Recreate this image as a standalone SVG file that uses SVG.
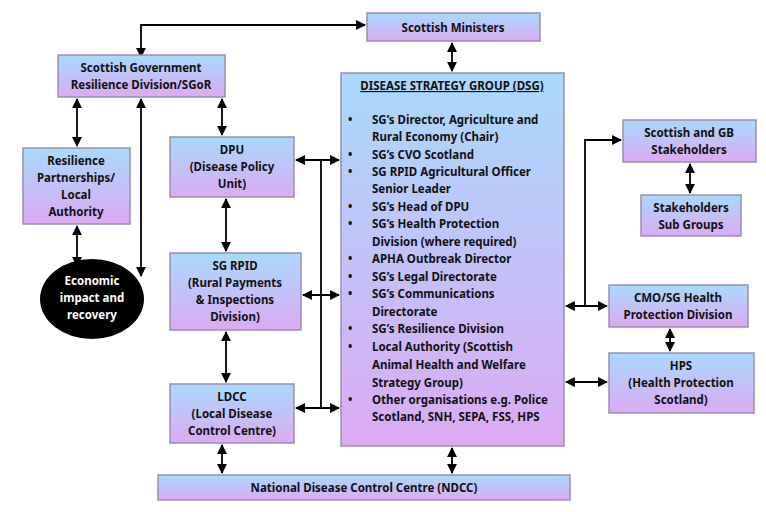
<svg xmlns="http://www.w3.org/2000/svg" width="766" height="512" viewBox="0 0 766 512">
<defs>
<linearGradient id="g" x1="0" y1="0" x2="0" y2="1"><stop offset="0" stop-color="#a9d9fb"/><stop offset="1" stop-color="#dcaaf3"/></linearGradient>
<marker id="a" viewBox="0 0 10 10" refX="9" refY="5" markerWidth="5.5" markerHeight="5.5" orient="auto-start-reverse"><path d="M0,0L10,5L0,10z" fill="#000"/></marker>
</defs>
<style>
.b{fill:url(#g);stroke:#9a8fb0;stroke-width:1.5}
text{font-family:"Noto Sans","Liberation Sans",sans-serif;font-weight:bold;font-size:11.5px;fill:#111}
.c{text-anchor:middle}
.l{fill:none;stroke:#000;stroke-width:1.8}
</style>
<rect width="766" height="512" fill="#fff"/>
<g id="connectors" class="l">
<path d="M141,57V25H365" marker-start="url(#a)" marker-end="url(#a)"/>
<path d="M452,43V71" marker-start="url(#a)" marker-end="url(#a)"/>
<path d="M77,99V146" marker-start="url(#a)" marker-end="url(#a)"/>
<path d="M222,99V135" marker-start="url(#a)" marker-end="url(#a)"/>
<path d="M141,99V276" marker-start="url(#a)" marker-end="url(#a)"/>
<path d="M77,226V266" marker-start="url(#a)" marker-end="url(#a)"/>
<path d="M226,199V251" marker-start="url(#a)" marker-end="url(#a)"/>
<path d="M226,332V382" marker-start="url(#a)" marker-end="url(#a)"/>
<path d="M296,160H339" marker-start="url(#a)" marker-end="url(#a)"/>
<path d="M303,295H339" marker-start="url(#a)" marker-end="url(#a)"/>
<path d="M296,408H339" marker-start="url(#a)" marker-end="url(#a)"/>
<path d="M321,160V408"/>
<path d="M222,445V473" marker-start="url(#a)" marker-end="url(#a)"/>
<path d="M452,448V473" marker-start="url(#a)" marker-end="url(#a)"/>
<path d="M566,306H607" marker-start="url(#a)" marker-end="url(#a)"/>
<path d="M585,306V140H621" marker-end="url(#a)"/>
<path d="M566,382H607" marker-start="url(#a)" marker-end="url(#a)"/>
<path d="M690,164V193" marker-start="url(#a)" marker-end="url(#a)"/>
<path d="M670,329V351" marker-start="url(#a)" marker-end="url(#a)"/>
</g>
<g id="ministers"><rect class="b" x="367" y="13" width="173" height="28"/><text class="c" x="453" y="32" font-size="13">Scottish Ministers</text></g>
<g id="sgor"><rect class="b" x="58" y="55" width="167" height="42"/><text class="c" x="141" y="72">Scottish Government</text><text class="c" x="141" y="89">Resilience Division/SGoR</text></g>
<g id="resilience"><rect class="b" x="23" y="148" width="107" height="76"/><text class="c" x="76" y="165">Resilience</text><text class="c" x="76" y="182">Partnerships/</text><text class="c" x="76" y="199">Local</text><text class="c" x="76" y="216">Authority</text></g>
<g id="econ"><ellipse cx="92" cy="299" rx="52" ry="40" fill="#000"/><text class="c" x="92" y="285" style="fill:#fff">Economic</text><text class="c" x="92" y="302" style="fill:#fff">impact and</text><text class="c" x="92" y="319" style="fill:#fff">recovery</text></g>
<g id="dpu"><rect class="b" x="170" y="137" width="124" height="60"/><text class="c" x="232" y="154">DPU</text><text class="c" x="232" y="171">(Disease Policy</text><text class="c" x="232" y="188">Unit)</text></g>
<g id="rpid"><rect class="b" x="170" y="253" width="131" height="77"/><text class="c" x="235" y="270">SG RPID</text><text class="c" x="235" y="287">(Rural Payments</text><text class="c" x="235" y="304">&amp; Inspections</text><text class="c" x="235" y="321">Division)</text></g>
<g id="ldcc"><rect class="b" x="170" y="384" width="124" height="59"/><text class="c" x="232" y="401">LDCC</text><text class="c" x="232" y="418">(Local Disease</text><text class="c" x="232" y="435">Control Centre)</text></g>
<g id="dsg"><rect class="b" x="341" y="73" width="223" height="373"/>
<text class="c" x="452" y="90" text-decoration="underline">DISEASE STRATEGY GROUP (DSG)</text>
<g>
<text x="348" y="124">•</text><text x="372" y="124">SG’s Director, Agriculture and</text><text x="372" y="141">Rural Economy (Chair)</text>
<text x="348" y="159">•</text><text x="372" y="159">SG’s CVO Scotland</text>
<text x="348" y="176">•</text><text x="372" y="176">SG RPID Agricultural Officer</text><text x="372" y="193">Senior Leader</text>
<text x="348" y="211">•</text><text x="372" y="211">SG’s Head of DPU</text>
<text x="348" y="228">•</text><text x="372" y="228">SG’s Health Protection</text><text x="372" y="246">Division (where required)</text>
<text x="348" y="263">•</text><text x="372" y="263">APHA Outbreak Director</text>
<text x="348" y="281">•</text><text x="372" y="281">SG’s Legal Directorate</text>
<text x="348" y="298">•</text><text x="372" y="298">SG’s Communications</text><text x="372" y="316">Directorate</text>
<text x="348" y="333">•</text><text x="372" y="333">SG’s Resilience Division</text>
<text x="348" y="351">•</text><text x="372" y="351">Local Authority (Scottish</text><text x="372" y="369">Animal Health and Welfare</text><text x="372" y="387">Strategy Group)</text>
<text x="348" y="404">•</text><text x="372" y="404">Other organisations e.g. Police</text><text x="372" y="421">Scotland, SNH, SEPA, FSS, HPS</text>
</g></g>
<g id="gbstake"><rect class="b" x="623" y="120" width="133" height="42"/><text class="c" x="689" y="137">Scottish and GB</text><text class="c" x="689" y="154">Stakeholders</text></g>
<g id="subgroups"><rect class="b" x="641" y="195" width="100" height="41"/><text class="c" x="691" y="212">Stakeholders</text><text class="c" x="691" y="229">Sub Groups</text></g>
<g id="cmo"><rect class="b" x="609" y="285" width="139" height="42"/><text class="c" x="678" y="302">CMO/SG Health</text><text class="c" x="678" y="319">Protection Division</text></g>
<g id="hps"><rect class="b" x="609" y="353" width="145" height="60"/><text class="c" x="681" y="370">HPS</text><text class="c" x="681" y="387">(Health Protection</text><text class="c" x="681" y="404">Scotland)</text></g>
<g id="ndcc"><rect class="b" x="158" y="475" width="412" height="25"/><text class="c" x="364" y="492">National Disease Control Centre (NDCC)</text></g>
</svg>
